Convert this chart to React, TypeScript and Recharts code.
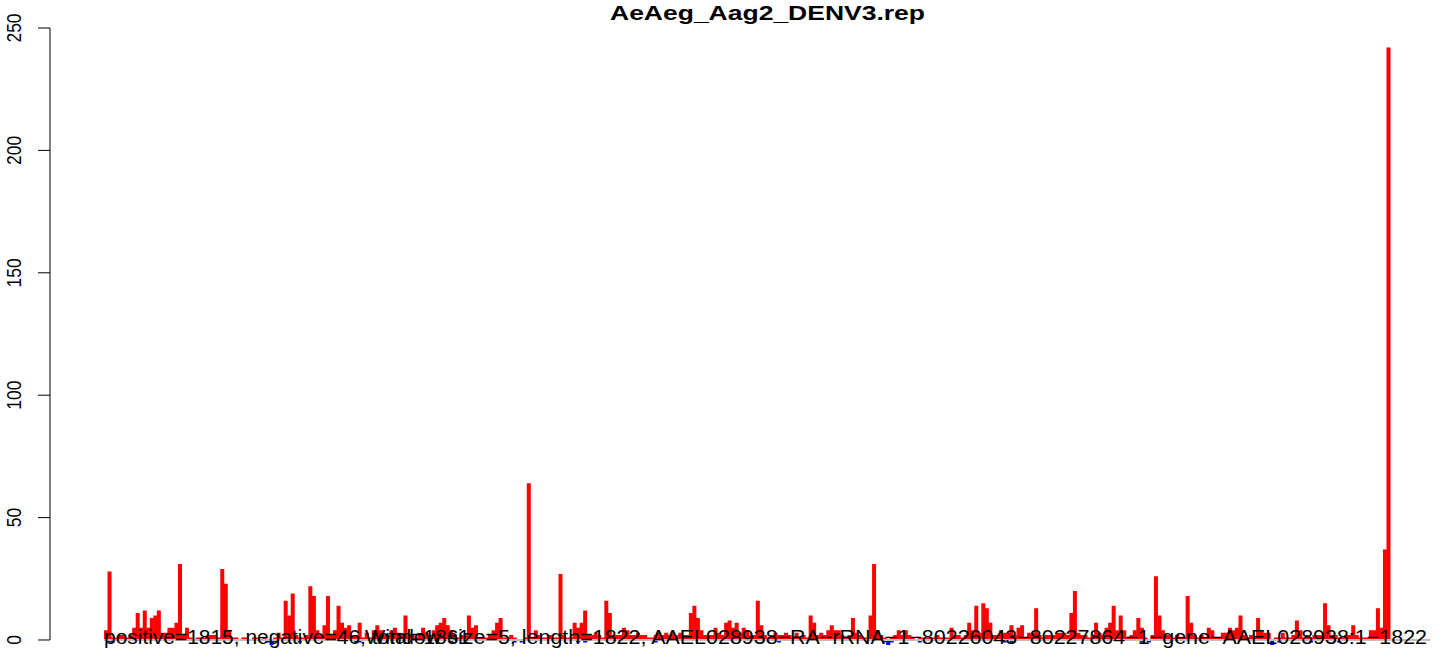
import { Bar, BarChart, ReferenceLine, XAxis, YAxis } from 'recharts';

// per-window counts, window size 5 over 1822 nt (365 windows)
const windowSize = 5;
const positive = [
  4, 28, 1, 1, 2, 2, 1, 2, 5, 11, 5, 12, 5, 9, 10, 12, 3, 3, 5, 5,
  7, 31, 2, 5, 1, 0, 1, 1, 1, 2, 2, 2, 1, 29, 23, 4, 1, 1, 0, 1,
  1, 0, 1, 1, 0, 1, 0, 0, 1, 3, 1, 16, 10, 19, 2, 1, 1, 2, 22, 18,
  4, 2, 6, 18, 2, 4, 14, 7, 5, 6, 2, 2, 7, 1, 3, 1, 4, 6, 4, 2,
  2, 4, 5, 3, 2, 10, 2, 2, 1, 2, 5, 3, 2, 4, 6, 7, 9, 6, 4, 2,
  1, 2, 2, 10, 5, 6, 1, 1, 1, 2, 4, 7, 9, 1, 1, 2, 1, 0, 0, 1,
  64, 1, 4, 2, 1, 1, 2, 1, 1, 27, 2, 1, 1, 7, 5, 7, 12, 2, 2, 3,
  2, 1, 16, 11, 2, 2, 2, 5, 4, 2, 2, 3, 2, 2, 1, 1, 2, 3, 2, 3,
  2, 3, 2, 3, 2, 2, 11, 14, 9, 4, 2, 2, 2, 5, 3, 2, 7, 8, 5, 7,
  3, 5, 4, 2, 2, 16, 6, 2, 1, 2, 3, 2, 2, 3, 2, 1, 3, 1, 2, 1,
  10, 7, 2, 3, 2, 4, 6, 4, 4, 2, 1, 2, 9, 3, 2, 1, 1, 10, 31, 4,
  2, 1, 0, 1, 2, 4, 2, 4, 2, 1, 0, 1, 1, 1, 1, 1, 2, 1, 1, 1,
  5, 2, 2, 1, 2, 7, 4, 14, 3, 15, 13, 7, 2, 2, 4, 3, 3, 6, 2, 5,
  6, 1, 3, 3, 13, 2, 1, 2, 2, 2, 3, 3, 3, 2, 11, 20, 3, 2, 2, 1,
  2, 7, 3, 2, 5, 7, 14, 4, 10, 4, 1, 2, 4, 9, 5, 1, 0, 2, 26, 10,
  4, 2, 2, 1, 2, 1, 1, 18, 7, 2, 1, 2, 1, 5, 4, 1, 1, 3, 3, 5,
  4, 5, 10, 2, 1, 2, 1, 9, 4, 3, 3, 0, 1, 1, 3, 1, 1, 2, 8, 4,
  1, 2, 1, 2, 2, 2, 15, 6, 2, 2, 1, 1, 2, 2, 6, 2, 1, 1, 1, 4,
  4, 13, 5, 37, 242
];
// negative strand: window index -> count
const negWindows = [1, 2, 46, 47, 48, 55, 71, 72, 98, 116, 118, 134, 136, 156, 191, 221, 222, 223, 231, 255, 257, 294, 296, 331, 333, 342, 350];
const negValues = [-1, -1, -1, -2, -1, -1, -1, -1, -1, -1, -1, -1, -1, -1, -1, -1, -2, -1, -1, -1, -1, -1, -1, -2, -1, -1, -1];
const yTicks = [0, 50, 100, 150, 200, 250];

const title = 'AeAeg_Aag2_DENV3.rep';
const statsText = 'positive=1815, negative=46, total=1861';
const infoText =
  'Window size=5, length=1822, AAEL028938\u2212RA\u2212rRNA\u22121\u221280226043\u221280227864\u22121\u2212gene\u2212AAEL028938:1\u22121822';

const data = positive.map((v, i) => {
  const k = negWindows.indexOf(i);
  return { start: i * windowSize, pos: v, neg: k >= 0 ? negValues[k] : 0 };
});

const W = 1444;
const H = 656;
const yAxisW = 50;
const marginRight = 10;
const padLeft = 54;
const padRight = 44;
const plotW = W - yAxisW - marginRight;
const pxPerNt = (plotW - padLeft - padRight) / (positive.length * windowSize);
const ntMin = -padLeft / pxPerNt;
const ntMax = positive.length * windowSize + padRight / pxPerNt;

const font = 'Liberation Sans, Arial, Helvetica, sans-serif';

function YTick(props: any) {
  const { y, payload } = props;
  return (
    <text
      transform={`translate(21, ${y}) scale(1.15, 1) rotate(-90)`}
      textAnchor="middle"
      fontSize={17.5}
      fontFamily={font}
      fill="#000"
    >
      {payload.value}
    </text>
  );
}

export default function App() {
  return (
    <div style={{ position: 'absolute', left: 0, top: 0, width: W, height: H, background: '#fff' }}>
      <BarChart
        width={W}
        height={H}
        data={data}
        margin={{ top: 28, right: marginRight, bottom: 8.66, left: 0 }}
        barCategoryGap={0}
        barGap={0}
        stackOffset="sign"
      >
        <XAxis dataKey="start" hide padding={{ left: padLeft, right: padRight }} />
        <XAxis
          xAxisId="nt"
          dataKey="start"
          type="number"
          hide
          domain={[ntMin, ntMax]}
          allowDataOverflow
        />
        <YAxis
          width={yAxisW}
          domain={[-3, 250]}
          ticks={yTicks}
          allowDataOverflow
          axisLine={false}
          tickSize={12}
          tickLine={{ stroke: '#000', strokeWidth: 1 }}
          tick={<YTick />}
          interval={0}
        />
        <Bar dataKey="pos" stackId="s" fill="#ff0000" isAnimationActive={false} />
        <Bar dataKey="neg" stackId="s" fill="#0000ff" isAnimationActive={false} />
        <ReferenceLine
          xAxisId="nt"
          segment={[{ x: ntMin, y: 0 }, { x: ntMin, y: 250 }]}
          stroke="#000"
          strokeWidth={1}
          ifOverflow="visible"
        />
        <ReferenceLine
          xAxisId="nt"
          segment={[{ x: 0, y: 0 }, { x: 1882, y: 0 }]}
          stroke="#bebebe"
          strokeWidth={2}
          ifOverflow="visible"
        />
      </BarChart>
      {/* annotation texts drawn on top of the bars, as in the R plot */}
      <svg
        width={W}
        height={H}
        style={{ position: 'absolute', left: 0, top: 0, pointerEvents: 'none' }}
      >
        <text
          x={767.5}
          y={20}
          textAnchor="middle"
          fontSize={21}
          fontWeight="bold"
          fontFamily={font}
          textLength={315}
          lengthAdjust="spacingAndGlyphs"
          fill="#000"
        >
          {title}
        </text>
        <text
          x={104}
          y={643.5}
          fontSize={20}
          fontFamily={font}
          textLength={366}
          lengthAdjust="spacingAndGlyphs"
          fill="#000"
        >
          {statsText}
        </text>
        <text
          x={365}
          y={643.5}
          fontSize={20}
          fontFamily={font}
          textLength={1062}
          lengthAdjust="spacingAndGlyphs"
          fill="#000"
        >
          {infoText}
        </text>
      </svg>
    </div>
  );
}
